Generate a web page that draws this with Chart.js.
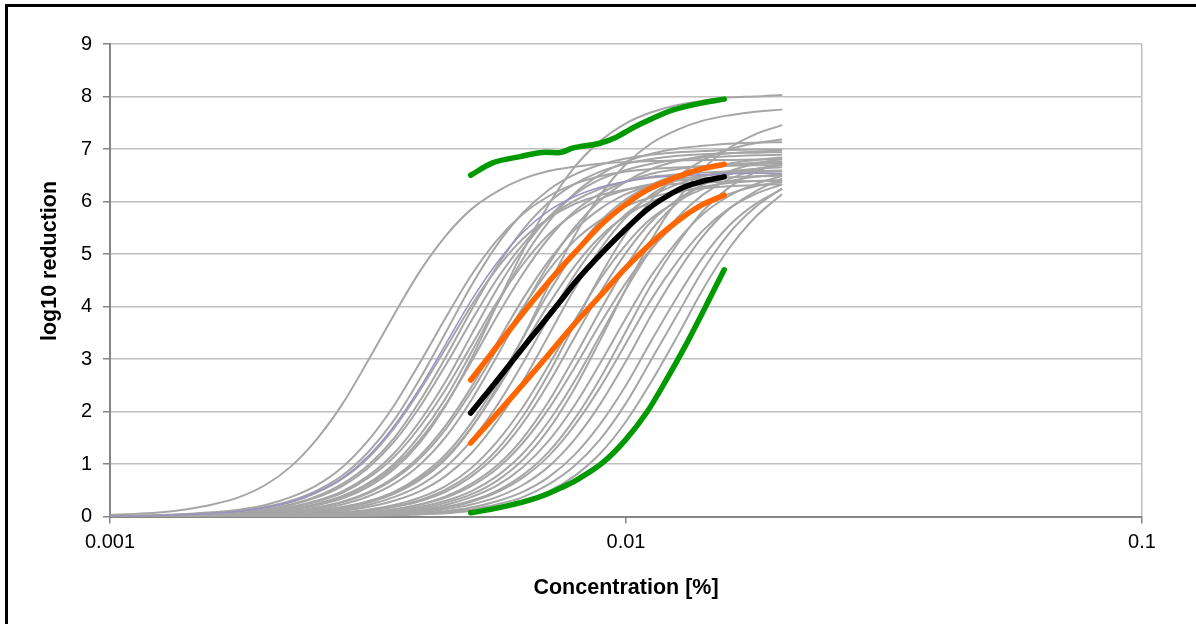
<!DOCTYPE html>
<html>
<head>
<meta charset="utf-8">
<title>log10 reduction vs concentration</title>
<script src="https://cdn.jsdelivr.net/npm/chart.js@4.4.1/dist/chart.umd.min.js"></script>
<style>
  html, body { margin: 0; padding: 0; background: #fff; overflow: hidden; }
  #wrap { position: relative; width: 1196px; height: 624px; }
  #wrap canvas { position: absolute; left: 0; top: 0; }
  #frame {
    position: absolute; left: 5px; top: 4px; width: 1400px; height: 800px;
    border-left: 3px solid #000; border-top: 3px solid #000; pointer-events: none;
  }
</style>
</head>
<body>
<div id="wrap">
  <canvas id="reductionChart" width="1196" height="624"></canvas>
  <div id="frame"></div>
</div>
<script>
// Axis ticks and titles
const xTickValues = [0.001, 0.01, 0.1];
const xTickLabels = ['0.001', '0.01', '0.1'];
const xTitle = 'Concentration [%]';
const yTitle = 'log10 reduction';

// Concentrations at which every fitted curve is tabulated
const curveConc = [0.001, 0.00112, 0.00126, 0.00141, 0.00158, 0.00178, 0.002,
  0.00224, 0.00251, 0.00282, 0.00316, 0.00355, 0.00398, 0.00447, 0.00501,
  0.00562, 0.00631, 0.00708, 0.00794, 0.00891, 0.01, 0.0112, 0.0126, 0.0141,
  0.0158, 0.0178, 0.02];

// One row per fitted curve (log10 reduction at curveConc)
const grayCurves = [
  [0.03, 0.05, 0.08, 0.14, 0.23, 0.37, 0.60, 0.95, 1.46, 2.14, 2.96, 3.84, 4.66, 5.34, 5.85, 6.19, 6.43, 6.58, 6.66, 6.72, 6.75, 6.77, 6.78, 6.79, 6.79, 6.80, 6.80],
  [0.00, 0.01, 0.01, 0.02, 0.03, 0.05, 0.08, 0.13, 0.21, 0.34, 0.56, 0.90, 1.40, 2.11, 3.00, 4.03, 5.05, 5.94, 6.65, 7.15, 7.49, 7.70, 7.84, 7.92, 7.98, 8.00, 8.03],
  [0.00, 0.00, 0.00, 0.01, 0.01, 0.02, 0.03, 0.06, 0.09, 0.16, 0.26, 0.43, 0.69, 1.09, 1.68, 2.46, 3.40, 4.40, 5.34, 6.12, 6.71, 7.11, 7.37, 7.54, 7.64, 7.71, 7.75],
  [0.00, 0.00, 0.00, 0.00, 0.00, 0.00, 0.01, 0.01, 0.02, 0.03, 0.06, 0.09, 0.15, 0.26, 0.42, 0.68, 1.08, 1.66, 2.43, 3.36, 4.34, 5.27, 6.04, 6.62, 7.01, 7.28, 7.45],
  [0.00, 0.00, 0.00, 0.00, 0.01, 0.01, 0.01, 0.02, 0.04, 0.07, 0.11, 0.19, 0.31, 0.51, 0.82, 1.27, 1.91, 2.72, 3.65, 4.58, 5.39, 6.03, 6.48, 6.79, 6.99, 7.11, 7.18],
  [0.01, 0.02, 0.03, 0.05, 0.08, 0.13, 0.22, 0.37, 0.59, 0.94, 1.44, 2.11, 2.92, 3.78, 4.59, 5.26, 5.76, 6.10, 6.33, 6.48, 6.57, 6.62, 6.65, 6.67, 6.68, 6.69, 6.69],
  [0.01, 0.01, 0.02, 0.04, 0.07, 0.11, 0.18, 0.30, 0.49, 0.78, 1.22, 1.83, 2.61, 3.50, 4.39, 5.17, 5.78, 6.22, 6.51, 6.70, 6.82, 6.89, 6.94, 6.96, 6.98, 6.99, 6.99],
  [0.01, 0.01, 0.02, 0.03, 0.05, 0.08, 0.13, 0.22, 0.36, 0.58, 0.92, 1.42, 2.08, 2.88, 3.72, 4.52, 5.18, 5.68, 6.01, 6.24, 6.38, 6.47, 6.52, 6.55, 6.57, 6.58, 6.59],
  [0.00, 0.01, 0.01, 0.02, 0.04, 0.06, 0.11, 0.18, 0.30, 0.48, 0.77, 1.20, 1.81, 2.57, 3.45, 4.33, 5.09, 5.70, 6.13, 6.42, 6.60, 6.72, 6.79, 6.84, 6.86, 6.88, 6.89],
  [0.00, 0.01, 0.01, 0.02, 0.04, 0.06, 0.10, 0.17, 0.28, 0.45, 0.73, 1.13, 1.70, 2.42, 3.25, 4.08, 4.80, 5.37, 5.77, 6.05, 6.22, 6.33, 6.40, 6.44, 6.46, 6.48, 6.49],
  [0.00, 0.01, 0.01, 0.02, 0.03, 0.05, 0.08, 0.14, 0.22, 0.37, 0.60, 0.95, 1.45, 2.13, 2.94, 3.81, 4.62, 5.30, 5.81, 6.15, 6.38, 6.53, 6.62, 6.67, 6.70, 6.72, 6.73],
  [0.00, 0.00, 0.01, 0.01, 0.02, 0.04, 0.06, 0.10, 0.17, 0.28, 0.46, 0.74, 1.15, 1.73, 2.46, 3.30, 4.14, 4.87, 5.45, 5.86, 6.14, 6.32, 6.43, 6.49, 6.54, 6.56, 6.58],
  [0.00, 0.00, 0.01, 0.01, 0.02, 0.03, 0.05, 0.08, 0.14, 0.23, 0.38, 0.62, 0.98, 1.51, 2.21, 3.05, 3.95, 4.80, 5.50, 6.02, 6.38, 6.62, 6.77, 6.86, 6.92, 6.95, 6.97],
  [0.00, 0.00, 0.00, 0.01, 0.01, 0.02, 0.04, 0.06, 0.11, 0.18, 0.29, 0.47, 0.76, 1.18, 1.78, 2.54, 3.40, 4.26, 5.02, 5.62, 6.04, 6.32, 6.51, 6.62, 6.69, 6.74, 6.76],
  [0.00, 0.00, 0.00, 0.01, 0.01, 0.02, 0.04, 0.06, 0.10, 0.17, 0.28, 0.45, 0.72, 1.12, 1.69, 2.41, 3.23, 4.04, 4.76, 5.33, 5.73, 6.00, 6.17, 6.28, 6.35, 6.39, 6.41],
  [0.00, 0.00, 0.00, 0.01, 0.01, 0.02, 0.03, 0.05, 0.08, 0.13, 0.22, 0.37, 0.59, 0.94, 1.44, 2.11, 2.92, 3.78, 4.59, 5.26, 5.76, 6.10, 6.33, 6.48, 6.57, 6.62, 6.65],
  [0.00, 0.00, 0.00, 0.00, 0.01, 0.01, 0.02, 0.04, 0.06, 0.11, 0.18, 0.30, 0.48, 0.77, 1.20, 1.81, 2.57, 3.45, 4.33, 5.09, 5.70, 6.13, 6.42, 6.60, 6.72, 6.79, 6.84],
  [0.00, 0.00, 0.00, 0.00, 0.01, 0.01, 0.02, 0.03, 0.05, 0.08, 0.13, 0.22, 0.36, 0.58, 0.92, 1.42, 2.08, 2.88, 3.72, 4.52, 5.18, 5.68, 6.01, 6.24, 6.38, 6.47, 6.52],
  [0.00, 0.00, 0.00, 0.00, 0.00, 0.01, 0.01, 0.02, 0.04, 0.06, 0.11, 0.18, 0.29, 0.47, 0.76, 1.18, 1.78, 2.54, 3.40, 4.26, 5.02, 5.62, 6.04, 6.32, 6.51, 6.62, 6.69],
  [0.00, 0.00, 0.00, 0.00, 0.00, 0.01, 0.01, 0.02, 0.03, 0.05, 0.08, 0.13, 0.22, 0.36, 0.58, 0.91, 1.40, 2.05, 2.83, 3.67, 4.45, 5.10, 5.59, 5.92, 6.14, 6.29, 6.37],
  [0.00, 0.00, 0.00, 0.00, 0.00, 0.00, 0.01, 0.01, 0.02, 0.04, 0.06, 0.11, 0.18, 0.30, 0.48, 0.77, 1.20, 1.81, 2.57, 3.45, 4.33, 5.09, 5.70, 6.13, 6.42, 6.60, 6.72],
  [0.00, 0.00, 0.00, 0.00, 0.00, 0.00, 0.01, 0.01, 0.02, 0.03, 0.05, 0.08, 0.13, 0.22, 0.37, 0.59, 0.94, 1.44, 2.11, 2.92, 3.78, 4.59, 5.26, 5.76, 6.10, 6.33, 6.48],
  [0.00, 0.00, 0.00, 0.00, 0.00, 0.00, 0.00, 0.01, 0.01, 0.02, 0.04, 0.06, 0.10, 0.17, 0.28, 0.46, 0.74, 1.15, 1.73, 2.46, 3.30, 4.14, 4.87, 5.45, 5.86, 6.14, 6.32],
  [0.00, 0.00, 0.00, 0.00, 0.00, 0.00, 0.00, 0.01, 0.01, 0.02, 0.03, 0.05, 0.08, 0.14, 0.23, 0.37, 0.60, 0.95, 1.46, 2.14, 2.96, 3.84, 4.66, 5.34, 5.85, 6.19, 6.43],
  [0.00, 0.00, 0.00, 0.00, 0.00, 0.00, 0.00, 0.00, 0.01, 0.01, 0.02, 0.04, 0.06, 0.10, 0.17, 0.29, 0.47, 0.75, 1.17, 1.76, 2.50, 3.35, 4.20, 4.94, 5.53, 5.95, 6.23],
  [0.00, 0.00, 0.00, 0.00, 0.00, 0.00, 0.00, 0.00, 0.01, 0.01, 0.02, 0.03, 0.05, 0.08, 0.14, 0.23, 0.37, 0.61, 0.96, 1.47, 2.16, 2.99, 3.86, 4.69, 5.38, 5.89, 6.24],
  [0.00, 0.00, 0.00, 0.00, 0.00, 0.00, 0.00, 0.00, 0.00, 0.01, 0.01, 0.02, 0.04, 0.06, 0.11, 0.18, 0.30, 0.48, 0.77, 1.20, 1.81, 2.57, 3.45, 4.33, 5.09, 5.70, 6.13],
  [0.01, 0.01, 0.02, 0.04, 0.06, 0.10, 0.17, 0.27, 0.45, 0.72, 1.11, 1.68, 2.39, 3.20, 4.01, 4.72, 5.29, 5.68, 5.95, 6.12, 6.23, 6.30, 6.34, 6.36, 6.38, 6.39, 6.39],
  [0.00, 0.01, 0.01, 0.02, 0.03, 0.05, 0.09, 0.14, 0.24, 0.39, 0.63, 1.00, 1.54, 2.25, 3.12, 4.03, 4.90, 5.61, 6.15, 6.51, 6.76, 6.91, 7.01, 7.06, 7.10, 7.12, 7.13],
  [0.00, 0.00, 0.01, 0.01, 0.02, 0.04, 0.06, 0.10, 0.16, 0.27, 0.44, 0.71, 1.10, 1.66, 2.37, 3.18, 3.98, 4.69, 5.25, 5.64, 5.91, 6.08, 6.19, 6.25, 6.29, 6.31, 6.33],
  [0.01, 0.01, 0.02, 0.03, 0.05, 0.08, 0.14, 0.23, 0.38, 0.62, 0.97, 1.49, 2.19, 3.03, 3.92, 4.76, 5.46, 5.98, 6.33, 6.57, 6.72, 6.81, 6.87, 6.90, 6.92, 6.93, 6.94],
  [0.00, 0.00, 0.00, 0.00, 0.00, 0.00, 0.00, 0.01, 0.01, 0.02, 0.04, 0.07, 0.11, 0.18, 0.30, 0.49, 0.79, 1.23, 1.85, 2.63, 3.53, 4.42, 5.20, 5.82, 6.26, 6.56, 6.75],
  [0.00, 0.00, 0.00, 0.00, 0.00, 0.01, 0.01, 0.02, 0.03, 0.05, 0.08, 0.14, 0.23, 0.38, 0.62, 0.97, 1.49, 2.19, 3.03, 3.92, 4.76, 5.46, 5.98, 6.33, 6.57, 6.72, 6.81]
];

// Single highlighted fit (thin purple)
const purpleCurve = [0.01, 0.01, 0.02, 0.04, 0.06, 0.10, 0.17, 0.28, 0.46, 0.73, 1.14, 1.72, 2.44, 3.28, 4.11, 4.83, 5.41, 5.82, 6.09, 6.27, 6.38, 6.45, 6.49, 6.51, 6.53, 6.54, 6.54];

// Mean fit with its band, and the lower limit, over the tested range
const bandConc = [0.005, 0.0055, 0.006, 0.0065, 0.007, 0.0075, 0.008, 0.009,
  0.01, 0.011, 0.012, 0.013, 0.014, 0.0155];
const meanCurve = [1.97, 2.47, 2.94, 3.37, 3.76, 4.13, 4.48, 5.03, 5.48, 5.85, 6.10, 6.28, 6.38, 6.47];
const upperBand = [2.60, 3.12, 3.60, 4.03, 4.41, 4.75, 5.05, 5.58, 5.95, 6.22, 6.39, 6.52, 6.62, 6.71];
const lowerBand = [1.40, 1.85, 2.27, 2.66, 3.03, 3.38, 3.70, 4.25, 4.74, 5.14, 5.47, 5.73, 5.93, 6.12];
const lowerLimit = [0.07, 0.14, 0.22, 0.31, 0.42, 0.55, 0.69, 1.02, 1.47, 2.00, 2.62, 3.23, 3.84, 4.70];

// Upper limit (measured, slightly uneven)
const upperConc = [0.005, 0.0055, 0.0062, 0.007, 0.0074, 0.0079, 0.0089, 0.0096,
  0.0103, 0.0113, 0.0123, 0.0139, 0.0155];
const upperLimit = [6.50, 6.73, 6.85, 6.94, 6.93, 7.02, 7.11, 7.23, 7.40, 7.59, 7.74, 7.87, 7.95];

const fontFamily = "'Liberation Sans', Arial, sans-serif";

function toPoints(xs, ys) {
  return xs.map((x, i) => ({ x: x, y: ys[i] }));
}

function lineSet(xs, ys, color, width, order) {
  return {
    data: toPoints(xs, ys),
    borderColor: color,
    borderWidth: width,
    order: order,
    pointRadius: 0,
    fill: false,
    cubicInterpolationMode: 'monotone',
    borderCapStyle: 'round',
    borderJoinStyle: 'round'
  };
}

const datasets = [
  lineSet(upperConc, upperLimit, '#009900', 5.5, 1),
  lineSet(bandConc, lowerLimit, '#009900', 5.5, 1),
  lineSet(bandConc, meanCurve, '#000000', 5.5, 2),
  lineSet(bandConc, upperBand, '#ff6600', 5.5, 3),
  lineSet(bandConc, lowerBand, '#ff6600', 5.5, 3),
  lineSet(curveConc, purpleCurve, '#9d90c2', 1.5, 5)
];
grayCurves.forEach(row => {
  datasets.push(lineSet(curveConc, row, '#a6a6a6', 2, 10));
});

// vertical y-axis title, placed a little above the middle of the axis
const yTitlePlugin = {
  id: 'yTitle',
  afterDraw(chart) {
    const ctx = chart.ctx;
    ctx.save();
    ctx.translate(50, 261);
    ctx.rotate(-Math.PI / 2);
    ctx.font = 'bold 21.5px ' + fontFamily;
    ctx.fillStyle = '#000';
    ctx.textAlign = 'center';
    ctx.textBaseline = 'middle';
    ctx.fillText(yTitle, 0, 0);
    ctx.restore();
  }
};

new Chart(document.getElementById('reductionChart').getContext('2d'), {
  type: 'line',
  data: { datasets: datasets },
  plugins: [yTitlePlugin],
  options: {
    responsive: false,
    animation: false,
    devicePixelRatio: 1,
    layout: { padding: { left: 0, top: 44, right: 54, bottom: 23 } },
    plugins: { legend: { display: false }, tooltip: { enabled: false } },
    scales: {
      x: {
        type: 'logarithmic',
        min: 0.001,
        max: 0.1,
        afterBuildTicks: scale => { scale.ticks = xTickValues.map(v => ({ value: v })); },
        afterFit: scale => { scale.height = 84.5; },
        ticks: {
          autoSkip: false,
          maxRotation: 0,
          padding: 7,
          color: '#000',
          font: { family: fontFamily, size: 20 },
          callback: (value, index) => xTickLabels[index]
        },
        grid: {
          color: ctx => (ctx.tick && ctx.tick.value === 0.1) ? '#c0c0c0' : 'rgba(0,0,0,0)',
          tickColor: '#868686',
          tickLength: 7,
          lineWidth: 1.5
        },
        border: { color: '#868686', width: 2 },
        title: {
          display: true,
          text: xTitle,
          color: '#000',
          font: { family: fontFamily, size: 21.5, weight: 'bold' },
          padding: { top: 0, bottom: 0 }
        }
      },
      y: {
        min: 0,
        max: 9,
        afterFit: scale => { scale.width = 110; },
        ticks: {
          stepSize: 1,
          padding: 11,
          color: '#000',
          font: { family: fontFamily, size: 20 }
        },
        grid: { color: '#c0c0c0', tickColor: '#868686', tickLength: 7, lineWidth: 1.5 },
        border: { color: '#868686', width: 2 }
      }
    }
  }
});
</script>
</body>
</html>
